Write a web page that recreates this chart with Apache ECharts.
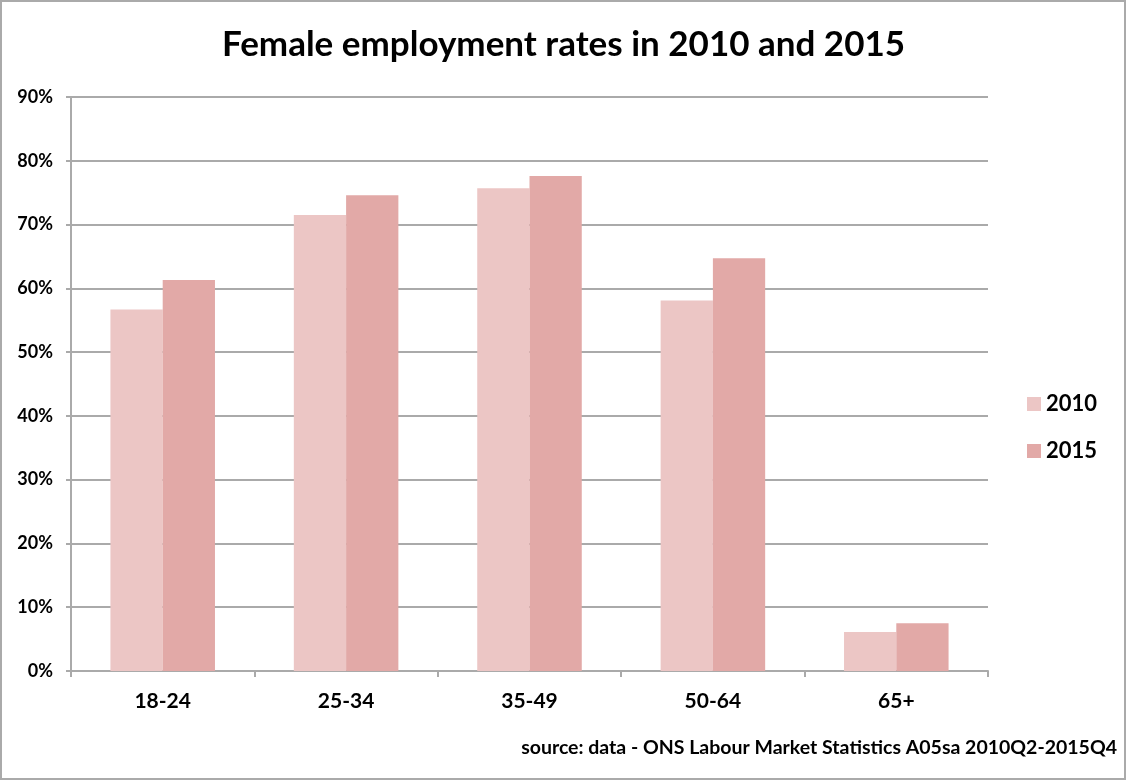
<!DOCTYPE html>
<html>
<head>
<meta charset="utf-8">
<script src="https://cdn.jsdelivr.net/npm/echarts@6/dist/echarts.min.js"></script>
<style>
html,body{margin:0;padding:0;background:#fff;}
#chart{width:1127px;height:781px;}
</style>
</head>
<body>
<div id="chart"></div>
<script>
const categories = ['18-24', '25-34', '35-49', '50-64', '65+'];
const values2010 = [56.7, 71.5, 75.7, 58.1, 6.1];
const values2015 = [61.3, 74.6, 77.6, 64.7, 7.5];
const seriesNames = ['2010', '2015'];

const FONT = 'Lato, "Open Sans", sans-serif';
const chart = echarts.init(document.getElementById('chart'));
chart.setOption({
  animation: false,
  backgroundColor: '#fff',
  title: {
    text: 'Female employment rates in 2010 and 2015',
    left: 'center',
    top: 22,
    textStyle: { fontFamily: FONT, fontSize: 35, fontWeight: 'bold', color: '#000' }
  },
  legend: {
    orient: 'vertical',
    left: 1027,
    top: 393,
    padding: 0,
    itemWidth: 14,
    itemHeight: 14,
    itemGap: 25,
    icon: 'rect',
    textStyle: { fontFamily: FONT, fontSize: 22, fontWeight: 'bold', color: '#000' },
    data: seriesNames
  },
  grid: { left: 71, right: 139, top: 97, bottom: 110 },
  xAxis: {
    type: 'category',
    data: categories,
    axisLine: { lineStyle: { color: '#aaa', width: 2 } },
    axisTick: { show: true, length: 6, lineStyle: { color: '#aaa', width: 2 } },
    axisLabel: { fontFamily: FONT, fontSize: 21, fontWeight: 'bold', color: '#000', margin: 20 }
  },
  yAxis: {
    type: 'value',
    min: 0,
    max: 90,
    interval: 10,
    axisLine: { show: true, lineStyle: { color: '#aaa', width: 2 } },
    axisTick: { show: true, length: 5, lineStyle: { color: '#aaa', width: 2 } },
    splitLine: { lineStyle: { color: '#aaa', width: 2 } },
    axisLabel: { formatter: '{value}%', fontFamily: FONT, fontSize: 18, fontWeight: 'bold', color: '#000', margin: 18 }
  },
  series: [
    { name: seriesNames[0], type: 'bar', data: values2010, barGap: '0%', barCategoryGap: '43%', itemStyle: { color: '#ECC6C5' } },
    { name: seriesNames[1], type: 'bar', data: values2015, barGap: '0%', barCategoryGap: '43%', itemStyle: { color: '#E2A9A7' } }
  ],
  graphic: [
    { type: 'rect', shape: { x: 1, y: 1, width: 1124, height: 778 }, style: { fill: 'none', stroke: '#aaa', lineWidth: 2 }, silent: true },
    { type: 'text', right: 10, top: 738, style: { text: 'source: data - ONS Labour Market Statistics A05sa 2010Q2-2015Q4', font: 'bold 19.5px ' + FONT, fill: '#000' } }
  ]
});
</script>
</body>
</html>
